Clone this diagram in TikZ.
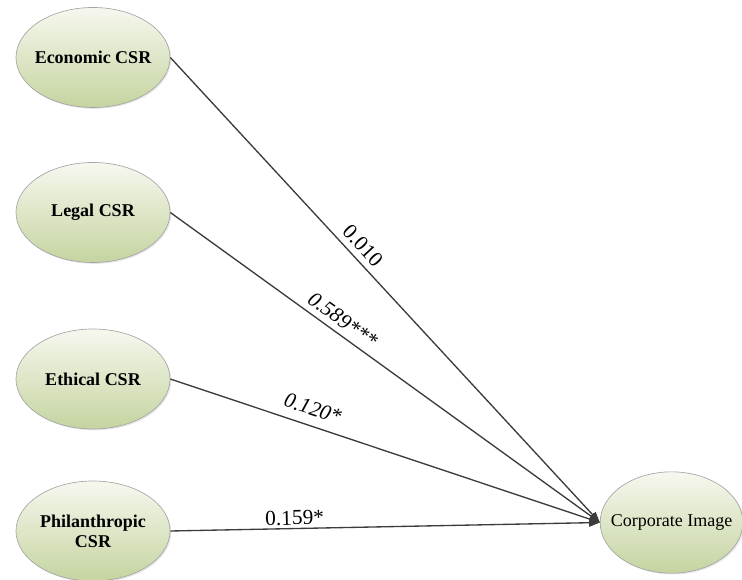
\documentclass[tikz,border=0pt]{standalone}
\usepackage{fontspec}
\setmainfont{Liberation Serif}
\usetikzlibrary{shapes.geometric,arrows.meta,shadows}
\tikzset{every picture/.style={line width=0.75pt}}
\definecolor{csrtop}{RGB}{246,248,239}
\definecolor{csrbot}{RGB}{197,212,160}
\definecolor{csredge}{RGB}{165,165,165}
\definecolor{csrline}{RGB}{60,60,60}
\tikzset{
  csrbox/.style={ellipse, draw=csredge, line width=0.5pt, top color=csrtop, bottom color=csrbot,
    minimum width=115.5pt, minimum height=75pt, inner sep=0pt,
    drop shadow={opacity=0.2, shadow xshift=1pt, shadow yshift=-1pt},
    label={[align=center, font=\fontsize{13.5}{15}\selectfont\bfseries]center:#1}},
  effect/.style={draw=csrline, line width=1pt, -{Triangle[length=8pt,width=6pt]}},
  coef/.style={anchor=south, inner xsep=1pt, font=\fontsize{16}{18}\selectfont}
}
\begin{document}
\begin{tikzpicture}[x=0.75pt,y=0.75pt,yscale=-1,xscale=1]
\useasboundingbox (0,0) rectangle (742,580);

%Shape: Ellipse
\node [csrbox={Economic CSR}] (eco) at (93,57.5) {};
%Shape: Ellipse
\node [csrbox={Legal CSR}] (leg) at (93,212.5) {};
%Shape: Ellipse
\node [csrbox={Ethical CSR}] (eth) at (93,379) {};
%Shape: Ellipse
\node [csrbox={Philanthropic\\CSR}] (phi) at (93,531) {};
%Shape: Ellipse
\node [ellipse, draw=csredge, line width=0.5pt, top color=csrtop, bottom color=csrbot,
  minimum width=107pt, minimum height=76pt, inner sep=0pt,
  drop shadow={opacity=0.2, shadow xshift=1pt, shadow yshift=-1pt},
  label={[font=\fontsize{13.5}{15}\selectfont]center:Corporate Image}] (img) at (671.5,522.5) {};

%Straight Lines
\draw [effect] (eco.east) -- node [coef, pos=0.425, rotate=-47.2, inner ysep=4.3pt] {0.010} (img.west);
%Straight Lines
\draw [effect] (leg.east) -- node [coef, pos=0.383, rotate=-35.8, inner ysep=4.5pt, font=\fontsize{16}{18}\selectfont\itshape] {0.589***} (img.west);
%Straight Lines
\draw [effect] (eth.east) -- node [coef, pos=0.319, rotate=-18.4, inner ysep=7pt, font=\fontsize{16}{18}\selectfont\itshape] {0.120*} (img.west);
%Straight Lines
\draw [effect] (phi.east) -- node [coef, pos=0.29, rotate=1.1, inner ysep=2pt] {0.159*} (img.west);

\end{tikzpicture}
\end{document}
